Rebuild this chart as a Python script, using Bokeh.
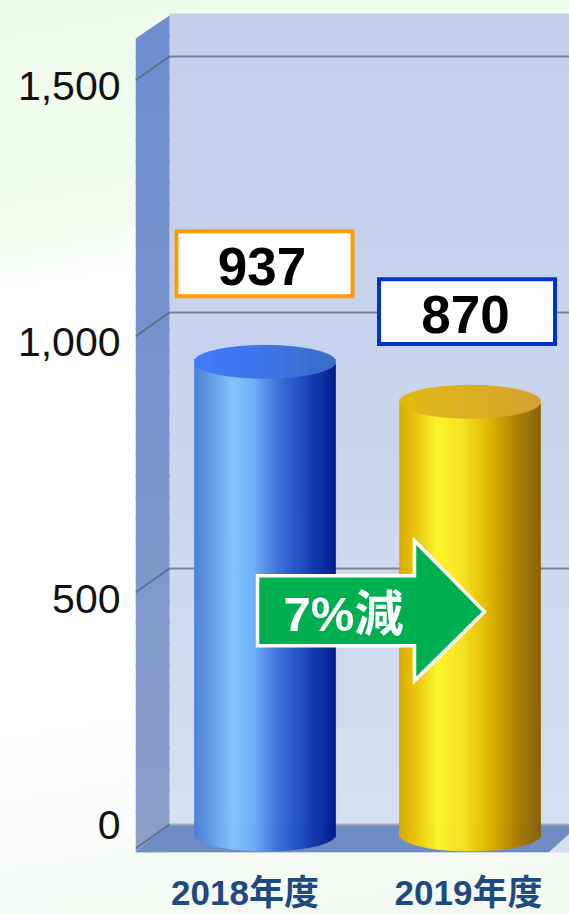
import numpy as np
from bokeh.plotting import figure
from bokeh.models import FixedTicker, Range1d
from bokeh.core.properties import value
from bokeh.embed import file_html
from bokeh.resources import INLINE

categories = ["2018年度", "2019年度"]
values = [937, 870]
bar_heights = [923, 845]          # height of each drawn column above its base, read on the wall scale
y_ticks = [0, 500, 1000, 1500]
y_tick_labels = ["0", "500", "1,000", "1,500"]
change_label = "7%減"

W, H = 569, 914
FRAME_BOTTOM = 853
PXU = 205.0
PYU = 0.5127
def X(px): return (px - 264.5) / PXU
def Y(py): return (825 - py) / PYU

p = figure(width=W, height=H, output_backend="svg", toolbar_location=None,
           x_range=Range1d(X(135), X(569)), y_range=Range1d(Y(FRAME_BOTTOM), Y(0)),
           min_border_left=135, min_border_right=0, min_border_top=0, min_border_bottom=0,
           outline_line_color=None, background_fill_alpha=0, border_fill_alpha=0)
p.styles = {"background": "linear-gradient(170deg,#eefaeb 0%,#f4fcf1 24%,#ffffff 29%,#ffffff 72%,#f5faf5 92%,#f4f9f4 100%)"}
p.grid.visible = False

def mix(stops, t):
    xs = [s[0] for s in stops]
    cols = np.array([[int(s[1][i:i+2], 16) for i in (1, 3, 5)] for s in stops], float)
    return "#%02x%02x%02x" % tuple(int(round(np.interp(t, xs, cols[:, k]))) for k in range(3))

# back wall
n = 40
edges = np.linspace(13, 853, n + 1)
wall = [(0, "#c2d0ec"), (.5, "#cad5ed"), (1, "#d8dfef")]
p.quad(left=X(169), right=X(569), top=[Y(e) for e in edges[:-1]], bottom=[Y(e + 2.5) for e in edges[1:]],
       fill_color=[mix(wall, i / n) for i in range(n)], line_color=None)
# side wall: slanted top, one slab per band, drawn top to bottom with overlap
side = [(0, "#6e8ed1"), (.5, "#7a94cc"), (1, "#8e9fc8")]
for i in range(n):
    y0, y1 = edges[i], min(edges[i + 1] + 2.5, 853)
    p.patch([X(135), X(169), X(169), X(135)],
            [Y(max(y1, 38)), Y(y1), Y(max(y0, 15)), Y(max(y0, 38))],
            fill_color=mix(side, i / n), line_color=None)
# floor
p.patch([X(135), X(169), X(569), X(569), X(548), X(135)],
        [Y(853), Y(825), Y(825), Y(834), Y(853), Y(853)], fill_color="#6f8bc4", line_color=None)
# gridlines
for v in y_ticks:
    col = "#a4abb8" if v == 0 else "#7c828e"
    p.line([X(169), X(569)], [v, v], line_color=col, line_width=2)
    p.line([X(135), X(169)], [v - 24 / PYU, v], line_color="#5f6f90", line_width=2)

# cylinders
grads = [
    ([(0, "#4a80d8"), (.08, "#5a93e2"), (.27, "#82c3fc"), (.42, "#6fb0f6"), (.6, "#3b70d8"), (.78, "#1a48c0"), (1, "#001c8a")],
     [(0, "#3c7cfa"), (.5, "#3b74ea"), (1, "#3a6cc4")]),
    ([(0, "#d8ac00"), (.1, "#e6c00c"), (.27, "#fff524"), (.45, "#f7e31e"), (.66, "#dcb000"), (.82, "#ae8200"), (1, "#876200")],
     [(0, "#e0ba0c"), (.5, "#dcae20"), (1, "#d6a030")]),
]
half = 70.5 / PXU
semi = 16.5 / PYU
base = Y(835)
m = 72
for i, (h, (body, cap)) in enumerate(zip(bar_heights, grads)):
    t = np.linspace(-1, 1, m + 1)
    mid = (t[:-1] + t[1:]) / 2
    arc = np.sqrt(1 - mid ** 2)
    lefts, rights = i + t[:-1] * half, i + t[1:] * half
    top = base + h
    cols = [mix(body, (u + 1) / 2) for u in mid]
    p.quad(left=lefts, right=rights, bottom=base - semi * arc, top=top - semi * arc,
           fill_color=cols, line_color=cols, line_width=0.7)
    cols = [mix(cap, (u + 1) / 2) for u in mid]
    p.quad(left=lefts, right=rights, bottom=top - semi * arc, top=top + semi * arc,
           fill_color=cols, line_color=cols, line_width=0.7)

# value boxes
box_x = [X(264), X(466.5)]
box_y = [Y(263.5), Y(311.5)]
box_col = ["#ff9c00", "#0033cc"]
bw, bh = 88 / PXU, 32.5 / PYU
p.quad(left=[c - bw for c in box_x], right=[c + bw for c in box_x],
       bottom=[c - bh for c in box_y], top=[c + bh for c in box_y],
       fill_color="#ffffff", line_color=box_col, line_width=4, line_join="miter")
p.text(x=[X(261.5), X(465)], y=[Y(266), Y(314.5)], text=[str(v) for v in values], text_align="center", text_baseline="middle",
       text_font=value("Liberation Sans"), text_font_style="bold", text_font_size="53px", text_color="#000000")

# change arrow
ax = [257, 414, 414, 484, 414, 414, 257]
ay = [576, 576, 541, 612, 681, 646, 646]
p.patch([X(a) for a in ax], [Y(a) for a in ay], fill_color="#00b050", line_color="#ffffff",
        line_width=3.5, line_join="miter")
p.text(x=[X(343)], y=[Y(614)], text=[change_label], text_align="center", text_baseline="middle",
       text_font=value("Liberation Sans, 'Noto Sans CJK JP'"), text_font_style="bold", text_font_size="49px", text_color="#ffffff")

# axes
tick_pos = [round(Y(py)) for py in (825, 599, 342, 85)]
ya = p.yaxis[0]
ya.ticker = FixedTicker(ticks=tick_pos)
ya.major_label_overrides = dict(zip(tick_pos, y_tick_labels))
ya.major_label_text_font = "Liberation Sans"
ya.major_label_text_font_size = "41px"
ya.major_label_text_color = "#111111"
ya.major_label_standoff = 15
ya.major_tick_in = 0
ya.major_tick_out = 0
ya.axis_line_color = None
ya.major_tick_line_color = None
ya.minor_tick_line_color = None

label_x = [X(244.5), X(468)]
xa = p.xaxis[0]
xa.ticker = FixedTicker(ticks=label_x)
xa.major_label_overrides = dict(zip(label_x, categories))
xa.major_label_text_font = "Liberation Sans, 'Noto Sans CJK JP'"
xa.major_label_text_font_style = "bold"
xa.major_label_text_font_size = "35px"
xa.major_label_text_color = "#1f4a80"
xa.major_label_standoff = 20
xa.major_tick_in = 0
xa.major_tick_out = 0
xa.major_label_orientation = "horizontal"
xa.axis_line_color = None
xa.major_tick_line_color = None
xa.minor_tick_line_color = None

open("out.html", "w").write(file_html(p, INLINE))
